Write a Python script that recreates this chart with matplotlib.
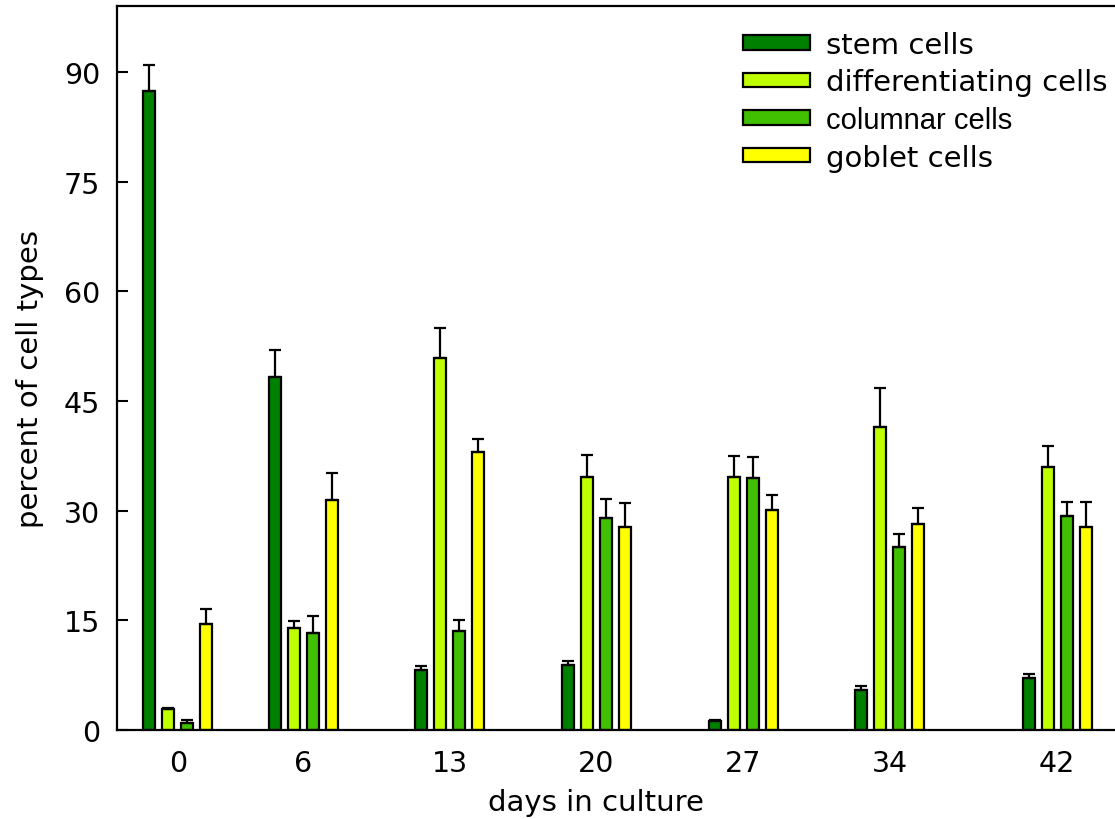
import numpy as np
import matplotlib
matplotlib.use("Agg")
import matplotlib.pyplot as plt

# Culture days (numeric x positions) and mean percentages per cell type
days = [0, 6, 13, 20, 27, 34, 42]
stem = [87.4, 48.3, 8.2, 8.9, 1.2, 5.5, 7.1]
differentiating = [2.9, 14.0, 50.8, 34.6, 34.6, 41.4, 36.0]
columnar = [1.0, 13.2, 13.5, 29.0, 34.4, 25.0, 29.3]
goblet = [14.5, 31.4, 38.0, 27.7, 30.1, 28.2, 27.8]

# Upper error (standard error) for each bar
stem_err = [3.6, 3.6, 0.5, 0.6, 0.1, 0.5, 0.6]
differentiating_err = [0.1, 0.9, 4.2, 3.0, 2.9, 5.4, 2.8]
columnar_err = [0.4, 2.4, 1.5, 2.6, 2.9, 1.8, 1.9]
goblet_err = [2.1, 3.8, 1.8, 3.3, 2.0, 2.1, 3.4]

labels = ["stem cells", "differentiating cells", "columnar cells", "goblet cells"]
colors = ["#008000", "#bfff00", "#40c000", "#ffff00"]

W, H = 1115, 820
fig = plt.figure(figsize=(W / 100, H / 100), dpi=100)
left_px, right_px, top_px, bottom_px = 117, 1120, 7, 731
ax = fig.add_axes([left_px / W, (H - bottom_px) / H,
                   (right_px - left_px) / W, (bottom_px - top_px) / H])

x = np.array(days, dtype=float)
offsets = [-1.36, -0.455, 0.455, 1.36]
width = 0.57
series = [stem, differentiating, columnar, goblet]
errs = [stem_err, differentiating_err, columnar_err, goblet_err]

handles = []
for vals, err, off, col, lab in zip(series, errs, offsets, colors, labels):
    b = ax.bar(x + off, vals, width=width, color=col, edgecolor="black",
               linewidth=1.6, label=lab, zorder=2)
    handles.append(b)
    ax.errorbar(x + off, vals, yerr=[np.zeros(len(vals)), err], fmt="none",
                ecolor="black", elinewidth=1.6, capsize=4, capthick=1.6,
                zorder=3)

ax.set_xlim(-2.9, 45.0)
ax.set_ylim(0, 99)
ax.set_xticks(days)
ax.set_xticklabels([str(d) for d in days])
ax.set_yticks([0, 15, 30, 45, 60, 75, 90])

ax.tick_params(axis="y", direction="in", length=8, width=1.5, pad=12,
               labelsize=20.5)
ax.tick_params(axis="x", length=0, pad=14, labelsize=20.5)

for s in ax.spines.values():
    s.set_linewidth(1.6)

ax.set_ylabel("percent of cell types", fontsize=21)
ax.set_xlabel("days in culture", fontsize=21)
# axis titles placed in figure pixel coordinates
ax.yaxis.set_label_coords(30 / W, (H - 379) / H, transform=fig.transFigure)
ax.xaxis.set_label_coords(596 / W, (H - 803) / H, transform=fig.transFigure)
ax.yaxis.label.set_va("center")
ax.xaxis.label.set_va("center")

leg = ax.legend(handles=handles, loc="upper left",
                bbox_to_anchor=(731 / W, (H - 20) / H),
                bbox_transform=fig.transFigure, frameon=False,
                fontsize=21, handlelength=2.3, handleheight=0.4,
                handletextpad=0.55, labelspacing=0.33, borderaxespad=0)
for h in leg.legend_handles:
    h.set_linewidth(1.6)
leg.get_texts()[2].set_family("Liberation Sans")

fig.savefig("out.png", dpi=100)
